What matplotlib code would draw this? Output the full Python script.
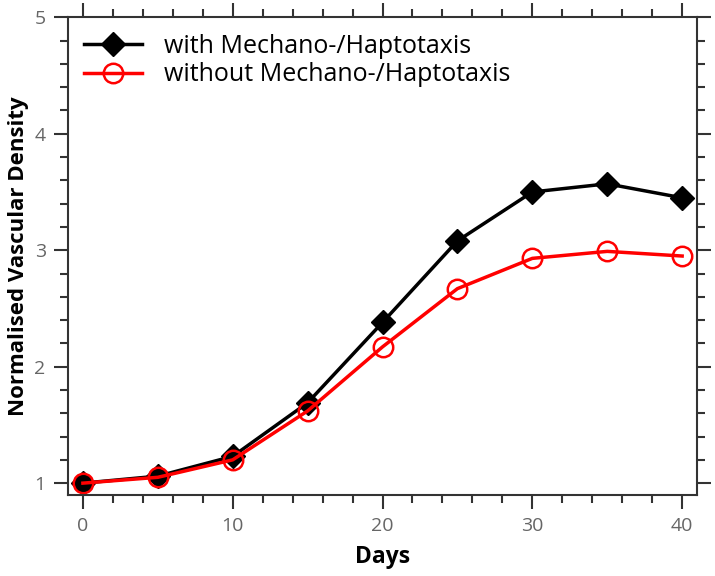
import numpy as np
import matplotlib.pyplot as plt
from matplotlib.ticker import MultipleLocator

plt.rcParams['font.family'] = ['Open Sans', 'DejaVu Sans']

days = [0, 5, 10, 15, 20, 25, 30, 35, 40]
with_taxis = [1.0, 1.06, 1.23, 1.69, 2.38, 3.08, 3.50, 3.57, 3.45]
without_taxis = [1.0, 1.05, 1.20, 1.62, 2.17, 2.67, 2.93, 2.99, 2.95]

fig = plt.figure(figsize=(7.15, 5.76), dpi=100)
ax = fig.add_axes([0.095, 0.141, 0.88, 0.829])

ax.plot(days, with_taxis, color='black', lw=2.5, marker='D', ms=12,
        label='with Mechano-/Haptotaxis')
ax.plot(days, without_taxis, color='red', lw=2.5, marker='o', ms=14,
        mfc='none', mew=1.8, label='without Mechano-/Haptotaxis')

ax.set_xlim(-1, 41)
ax.set_ylim(0.9, 5)
ax.xaxis.set_major_locator(MultipleLocator(10))
ax.xaxis.set_minor_locator(MultipleLocator(2))
ax.yaxis.set_major_locator(MultipleLocator(1))
ax.yaxis.set_minor_locator(MultipleLocator(0.2))

ax.tick_params(which='both', direction='out', top=True, right=True,
               color='#333333', width=1.5, labelcolor='#666666', labelsize=14)
ax.tick_params(which='major', length=10, pad=6)
ax.tick_params(which='minor', length=6)
for s in ax.spines.values():
    s.set_color('#333333')
    s.set_linewidth(1.5)

ax.set_xlabel('Days', fontsize=16.5, fontweight='bold', labelpad=7)
ax.set_ylabel('Normalised Vascular Density', fontsize=16, fontweight='bold',
              labelpad=4)

ax.legend(loc='upper left', frameon=False, fontsize=18, handlelength=2.3,
          handletextpad=0.9, borderaxespad=0.25, labelspacing=0.15)

fig.savefig('out.png', dpi=100)
